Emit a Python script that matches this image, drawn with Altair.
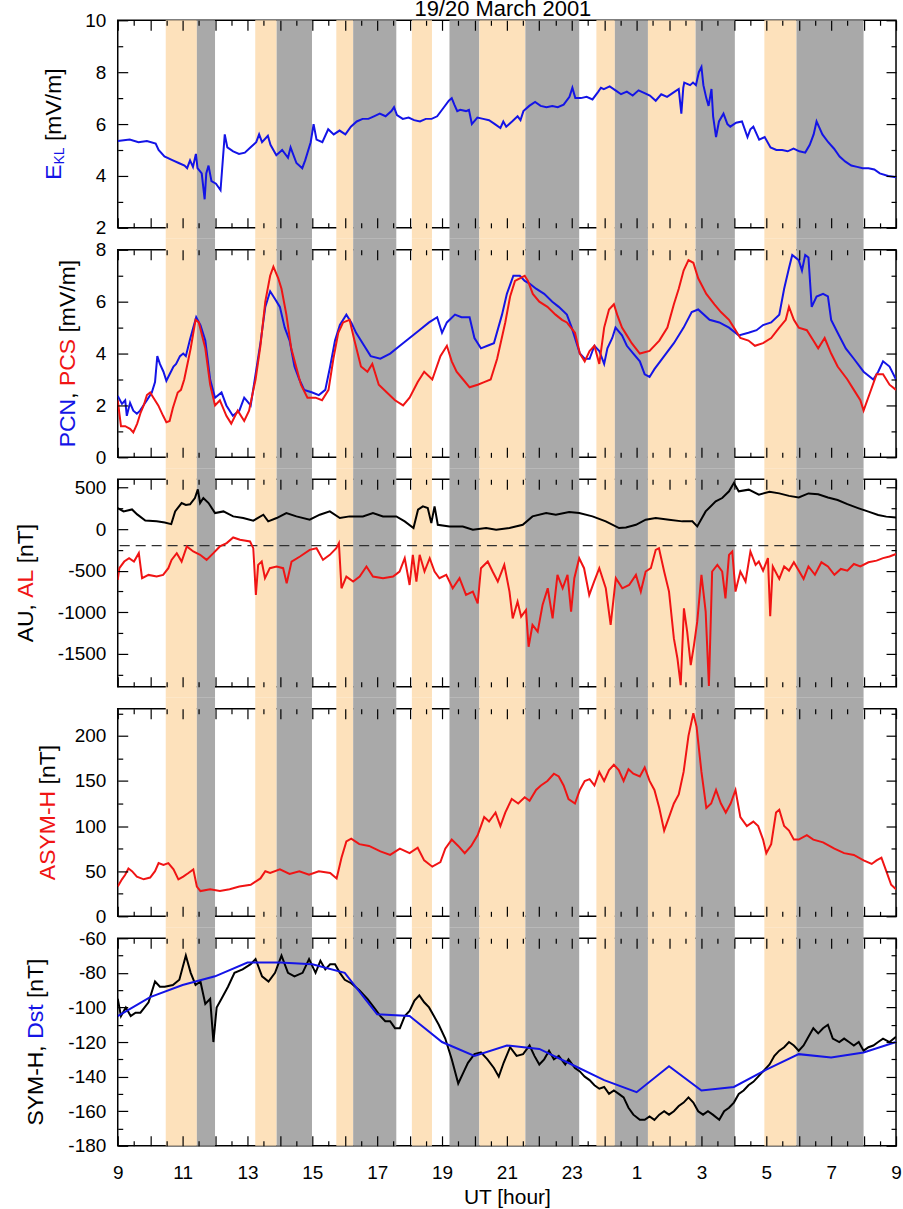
import altair as alt
import pandas as pd

FONT = "Liberation Sans"
BLUE = "#1414e6"
RED = "#f01414"
BLACK = "#000000"
ORANGE = "#fde1bb"
GRAY = "#a9a9a9"

W = 780
H = 208
GAP = 22

# ---------------- shaded intervals (UT hours, >24 = next day) ----------------
BAND_START = [10.48, 11.44, 13.24, 13.90, 15.74, 16.26, 18.07, 19.23, 20.15, 21.57, 23.76, 24.33, 25.35, 26.82, 28.94, 29.93]
BAND_END = [11.44, 12.00, 13.90, 14.99, 16.26, 17.59, 18.69, 20.15, 21.57, 23.23, 24.33, 25.35, 26.82, 28.03, 29.93, 32.00]
BAND_KIND = ["o", "g", "o", "g", "o", "g", "o", "g", "o", "g", "o", "g", "o", "g", "o", "g"]

# ---------------- ticks ----------------
X_MAJOR = [9, 10, 11, 12, 13, 14, 15, 16, 17, 18, 19, 20, 21, 22, 23, 24, 25, 26, 27, 28, 29, 30, 31, 32, 33]
X_MINOR = [9.5, 10.5, 11.5, 12.5, 13.5, 14.5, 15.5, 16.5, 17.5, 18.5, 19.5, 20.5, 21.5, 22.5, 23.5, 24.5,
           25.5, 26.5, 27.5, 28.5, 29.5, 30.5, 31.5, 32.5]
X_LABELS = [9, 11, 13, 15, 17, 19, 21, 23, 25, 27, 29, 31, 33]

# ---------------- series (hour, value) ----------------
EKL = [(9.0, 5.35), (9.37, 5.4), (9.64, 5.3), (9.9, 5.35), (10.17, 5.25), (10.26, 5.0), (10.44, 4.75), (10.7, 4.6),
       (10.88, 4.5), (11.06, 4.4), (11.14, 4.3), (11.23, 4.6), (11.32, 4.35), (11.41, 4.85), (11.46, 4.3), (11.59, 4.1),
       (11.68, 3.1), (11.73, 4.1), (11.8, 4.4), (11.89, 3.8), (12.03, 3.7), (12.17, 3.45), (12.3, 5.6), (12.38, 5.1),
       (12.56, 4.95), (12.74, 4.85), (12.92, 4.9), (13.09, 5.1), (13.27, 5.3), (13.36, 5.6), (13.45, 5.3), (13.63, 5.55),
       (13.71, 5.2), (13.89, 4.8), (14.07, 5.0), (14.25, 4.7), (14.33, 5.1), (14.51, 4.5), (14.69, 4.3), (14.78, 4.6),
       (14.95, 5.3), (15.04, 6.0), (15.13, 5.4), (15.31, 5.3), (15.49, 5.8), (15.66, 5.6), (15.84, 5.75), (16.02, 5.6),
       (16.19, 5.9), (16.37, 6.1), (16.55, 6.2), (16.73, 6.2), (16.9, 6.3), (17.08, 6.4), (17.26, 6.3), (17.44, 6.5),
       (17.52, 6.65), (17.61, 6.35), (17.79, 6.2), (17.97, 6.25), (18.14, 6.15), (18.32, 6.1), (18.5, 6.2), (18.68, 6.2),
       (18.85, 6.3), (19.03, 6.6), (19.21, 6.9), (19.3, 7.0), (19.38, 6.75), (19.47, 6.5), (19.56, 6.55), (19.74, 6.5),
       (19.83, 6.55), (19.92, 6.0), (20.09, 6.25), (20.27, 6.2), (20.45, 6.15), (20.63, 6.0), (20.8, 5.85), (20.89, 6.1),
       (20.98, 5.9), (21.16, 6.1), (21.33, 6.3), (21.42, 6.15), (21.51, 6.5), (21.69, 6.7), (21.87, 6.85), (22.04, 6.7),
       (22.22, 6.65), (22.4, 6.7), (22.57, 6.65), (22.75, 6.75), (22.93, 7.05), (23.02, 7.4), (23.11, 7.0), (23.28, 7.0),
       (23.46, 7.05), (23.64, 6.95), (23.82, 7.25), (23.9, 7.4), (23.99, 7.35), (24.17, 7.45), (24.35, 7.3), (24.52, 7.15),
       (24.7, 7.25), (24.88, 7.1), (25.06, 7.3), (25.23, 7.2), (25.41, 7.1), (25.59, 6.9), (25.76, 7.15), (25.94, 7.05),
       (26.12, 7.2), (26.3, 7.35), (26.38, 6.4), (26.44, 7.4), (26.47, 7.6), (26.65, 7.5), (26.74, 7.6), (26.83, 7.5),
       (26.92, 8.0), (27.0, 8.2), (27.06, 7.5), (27.15, 7.0), (27.22, 6.7), (27.31, 7.35), (27.36, 6.3), (27.45, 5.5),
       (27.54, 6.1), (27.68, 6.4), (27.8, 6.0), (27.89, 5.9), (28.07, 6.05), (28.25, 6.1), (28.42, 5.5), (28.51, 5.8),
       (28.6, 5.9), (28.78, 5.4), (28.95, 5.5), (29.13, 5.1), (29.31, 5.0), (29.49, 5.0), (29.66, 4.95), (29.84, 5.05),
       (30.02, 4.95), (30.2, 4.9), (30.34, 5.2), (30.46, 5.6), (30.55, 6.1), (30.64, 5.85), (30.73, 5.6), (30.91, 5.3),
       (31.09, 5.05), (31.26, 4.75), (31.44, 4.55), (31.62, 4.4), (31.8, 4.35), (31.97, 4.3), (32.15, 4.3), (32.33, 4.25),
       (32.5, 4.1), (32.76, 4.0), (33.0, 3.95)]

PCN = [(9.0, 2.37), (9.13, 2.06), (9.23, 2.2), (9.28, 1.6), (9.38, 2.1), (9.48, 1.8), (9.59, 1.68), (9.69, 1.8),
       (9.79, 2.0), (9.9, 2.2), (10.05, 2.5), (10.15, 2.9), (10.22, 3.9), (10.3, 3.6), (10.41, 3.3), (10.5, 2.95),
       (10.6, 3.2), (10.72, 3.5), (10.8, 3.6), (10.92, 3.9), (11.02, 4.0), (11.1, 3.9), (11.23, 4.55), (11.33, 5.0),
       (11.42, 5.4), (11.55, 5.1), (11.7, 4.5), (11.85, 3.0), (12.0, 2.3), (12.2, 2.5), (12.35, 2.0), (12.55, 1.6),
       (12.75, 1.8), (12.9, 2.3), (13.1, 2.0), (13.25, 3.2), (13.4, 4.4), (13.55, 5.8), (13.7, 6.4), (13.85, 6.1),
       (14.0, 5.8), (14.15, 5.0), (14.3, 4.5), (14.45, 3.5), (14.6, 3.0), (14.75, 2.6), (15.0, 2.5), (15.2, 2.4),
       (15.4, 2.6), (15.55, 3.5), (15.7, 4.5), (15.85, 5.1), (16.05, 5.5), (16.2, 5.2), (16.35, 4.8), (16.6, 4.3),
       (16.8, 3.9), (17.1, 3.8), (17.4, 4.0), (17.7, 4.3), (18.0, 4.6), (18.3, 4.9), (18.6, 5.2), (18.85, 5.4),
       (19.0, 4.8), (19.15, 5.2), (19.4, 5.5), (19.6, 5.4), (19.85, 5.4), (20.0, 4.6), (20.2, 4.2), (20.4, 4.3),
       (20.6, 4.4), (20.85, 5.5), (21.0, 6.3), (21.2, 7.0), (21.4, 7.0), (21.55, 6.8), (21.7, 6.7), (21.9, 6.5),
       (22.15, 6.3), (22.4, 6.0), (22.6, 5.8), (22.85, 5.5), (23.0, 5.0), (23.25, 4.0), (23.4, 3.8), (23.55, 3.8),
       (23.7, 4.3), (23.85, 4.1), (24.0, 3.6), (24.1, 4.2), (24.25, 4.6), (24.35, 5.0), (24.55, 4.7), (24.7, 4.3),
       (24.9, 4.0), (25.1, 3.7), (25.25, 3.2), (25.4, 3.1), (25.55, 3.4), (25.85, 3.9), (26.15, 4.4), (26.45, 5.0),
       (26.7, 5.6), (26.9, 5.7), (27.25, 5.3), (27.55, 5.2), (27.85, 5.0), (28.15, 4.7), (28.45, 4.8), (28.7, 4.9),
       (28.9, 5.1), (29.15, 5.2), (29.4, 5.5), (29.55, 6.5), (29.7, 7.3), (29.8, 7.8), (30.0, 7.6), (30.1, 7.2),
       (30.2, 7.8), (30.3, 7.7), (30.4, 5.8), (30.55, 6.2), (30.75, 6.3), (30.9, 6.2), (31.0, 5.3), (31.2, 4.8),
       (31.45, 4.2), (31.7, 3.8), (32.0, 3.3), (32.3, 3.0), (32.45, 3.3), (32.6, 3.7), (32.8, 3.5), (33.0, 3.0)]

PCS = [(9.0, 2.2), (9.1, 1.2), (9.23, 1.2), (9.38, 1.1), (9.48, 0.96), (9.6, 1.3), (9.7, 1.7), (9.8, 2.0),
       (9.9, 2.4), (10.0, 2.5), (10.1, 2.3), (10.25, 2.0), (10.4, 1.6), (10.5, 1.35), (10.6, 1.4), (10.7, 1.9),
       (10.85, 2.5), (10.95, 2.6), (11.05, 3.0), (11.15, 3.6), (11.25, 4.2), (11.4, 5.3), (11.5, 5.2), (11.7, 4.2),
       (11.85, 2.8), (12.0, 2.0), (12.15, 2.2), (12.35, 1.6), (12.5, 1.3), (12.7, 1.8), (12.9, 1.4), (13.05, 1.8),
       (13.25, 3.0), (13.4, 4.3), (13.55, 6.0), (13.7, 7.0), (13.8, 7.35), (13.95, 6.9), (14.05, 6.5), (14.2, 5.5),
       (14.35, 4.2), (14.5, 3.5), (14.65, 2.8), (14.85, 2.3), (15.1, 2.3), (15.3, 2.2), (15.5, 2.6), (15.65, 3.8),
       (15.8, 4.8), (15.95, 5.2), (16.15, 5.3), (16.3, 4.5), (16.5, 3.5), (16.7, 3.3), (16.85, 3.6), (17.05, 2.8),
       (17.3, 2.5), (17.55, 2.2), (17.8, 2.0), (18.0, 2.3), (18.25, 2.9), (18.45, 3.3), (18.7, 3.0), (18.95, 3.9),
       (19.15, 4.3), (19.3, 3.7), (19.45, 3.3), (19.65, 3.0), (19.85, 2.7), (20.1, 2.8), (20.3, 2.9), (20.5, 3.0),
       (20.7, 3.8), (20.95, 5.2), (21.1, 6.2), (21.25, 6.8), (21.4, 6.9), (21.55, 7.0), (21.65, 6.8), (21.8, 6.3),
       (22.0, 6.0), (22.25, 5.8), (22.5, 5.5), (22.7, 5.3), (22.85, 5.2), (23.1, 4.8), (23.25, 4.0), (23.4, 3.7),
       (23.55, 4.1), (23.7, 4.3), (23.85, 3.6), (24.0, 5.0), (24.15, 5.7), (24.3, 5.9), (24.4, 5.5), (24.55, 5.0),
       (24.7, 4.7), (24.85, 4.4), (25.1, 4.0), (25.4, 4.1), (25.7, 4.5), (25.95, 5.0), (26.15, 5.9), (26.3, 6.5),
       (26.45, 7.2), (26.6, 7.6), (26.75, 7.5), (26.9, 6.9), (27.15, 6.3), (27.4, 5.9), (27.6, 5.6), (27.85, 5.3),
       (28.0, 5.0), (28.2, 4.6), (28.45, 4.5), (28.65, 4.3), (28.9, 4.4), (29.15, 4.6), (29.4, 5.0), (29.6, 5.3),
       (29.7, 5.8), (29.85, 5.3), (30.0, 5.0), (30.25, 4.9), (30.45, 4.5), (30.6, 4.2), (30.8, 4.6), (31.0, 4.0),
       (31.2, 3.5), (31.5, 3.0), (31.7, 2.6), (31.9, 2.2), (32.0, 1.8), (32.2, 2.5), (32.4, 3.2), (32.6, 3.2),
       (32.8, 2.8), (33.0, 2.6)]

AU = [(9.0, 253), (9.18, 213), (9.44, 237), (9.6, 177), (9.85, 104), (10.2, 93), (10.45, 80), (10.65, 60),
      (10.77, 213), (10.97, 314), (11.1, 290), (11.23, 298), (11.38, 374), (11.47, 478), (11.54, 314), (11.64, 374),
      (11.8, 314), (12.0, 193), (12.26, 213), (12.56, 153), (12.87, 133), (13.18, 101), (13.49, 173), (13.64, 93),
      (13.9, 133), (14.2, 193), (14.51, 153), (14.92, 113), (15.23, 173), (15.54, 213), (15.85, 133), (16.15, 153),
      (16.56, 153), (16.87, 193), (17.18, 153), (17.59, 153), (17.85, 93), (18.12, 12), (18.26, 234), (18.41, 274),
      (18.56, 253), (18.67, 72), (18.77, 274), (18.87, 52), (19.23, 32), (19.64, 32), (19.95, -8), (20.36, 12),
      (20.67, -8), (21.08, 12), (21.49, 52), (21.79, 153), (22.21, 193), (22.51, 173), (22.92, 205), (23.23, 193),
      (23.64, 153), (24.05, 93), (24.46, 12), (24.67, 20), (24.98, 52), (25.28, 113), (25.59, 133), (26.0, 113),
      (26.41, 93), (26.72, 93), (26.87, 32), (27.13, 213), (27.44, 334), (27.64, 374), (27.85, 455), (28.0, 555),
      (28.15, 455), (28.46, 475), (28.77, 415), (29.1, 450), (29.4, 430), (29.7, 400), (30.0, 380), (30.3, 430),
      (30.6, 420), (30.9, 380), (31.2, 350), (31.5, 300), (31.85, 250), (32.15, 210), (32.45, 170), (32.7, 150),
      (33.0, 140)]

AL = [(9.0, -612), (9.05, -471), (9.2, -391), (9.35, -351), (9.5, -391), (9.65, -290), (9.75, -592), (9.95, -552),
      (10.2, -572), (10.4, -552), (10.56, -471), (10.66, -371), (10.82, -290), (10.97, -391), (11.13, -209),
      (11.33, -270), (11.54, -310), (11.74, -371), (11.95, -290), (12.15, -209), (12.36, -169), (12.56, -101),
      (12.77, -129), (13.08, -149), (13.18, -230), (13.26, -793), (13.33, -431), (13.44, -391), (13.54, -592),
      (13.69, -471), (13.9, -451), (14.1, -471), (14.21, -653), (14.36, -391), (14.62, -330), (14.92, -250),
      (15.13, -230), (15.33, -371), (15.54, -310), (15.74, -230), (15.82, -169), (15.9, -713), (16.05, -572),
      (16.26, -632), (16.46, -572), (16.67, -451), (16.87, -572), (17.18, -592), (17.49, -572), (17.69, -511),
      (17.85, -351), (18.0, -673), (18.1, -310), (18.21, -632), (18.31, -310), (18.46, -511), (18.62, -351),
      (18.77, -511), (18.92, -592), (19.13, -552), (19.33, -713), (19.54, -592), (19.74, -793), (19.95, -753),
      (20.1, -894), (20.2, -471), (20.41, -391), (20.56, -511), (20.72, -632), (20.92, -431), (21.08, -753),
      (21.18, -1076), (21.33, -874), (21.44, -1055), (21.59, -974), (21.67, -1417), (21.79, -1155), (21.95, -1236),
      (22.1, -914), (22.26, -713), (22.41, -1076), (22.56, -552), (22.72, -713), (22.87, -552), (22.98, -994),
      (23.08, -592), (23.23, -351), (23.38, -471), (23.54, -793), (23.69, -632), (23.85, -471), (24.05, -713),
      (24.2, -1155), (24.36, -592), (24.56, -713), (24.77, -673), (24.98, -552), (25.13, -753), (25.28, -511),
      (25.44, -471), (25.59, -250), (25.69, -230), (25.85, -511), (26.0, -753), (26.15, -1317), (26.26, -1559),
      (26.36, -1880), (26.46, -955), (26.56, -1236), (26.67, -1639), (26.77, -1397), (26.87, -1115), (27.0, -552),
      (27.13, -994), (27.23, -1890), (27.33, -511), (27.49, -431), (27.64, -511), (27.74, -834), (27.85, -310),
      (27.95, -270), (28.05, -753), (28.2, -511), (28.36, -632), (28.51, -270), (28.67, -431), (28.77, -391),
      (28.9, -500), (29.05, -350), (29.12, -1050), (29.2, -450), (29.4, -600), (29.55, -450), (29.7, -500),
      (29.85, -400), (30.0, -500), (30.15, -600), (30.3, -450), (30.5, -550), (30.7, -400), (30.9, -450),
      (31.1, -550), (31.3, -480), (31.5, -500), (31.7, -420), (31.9, -450), (32.15, -400), (32.4, -380),
      (32.6, -350), (32.8, -330), (33.0, -300)]
AL_REF = -200

ASYMH = [(9.0, 33), (9.13, 41), (9.23, 46), (9.33, 53), (9.44, 50), (9.59, 44), (9.8, 41), (10.0, 43), (10.15, 50),
         (10.26, 59), (10.41, 57), (10.56, 59), (10.72, 52), (10.87, 41), (11.02, 44), (11.18, 48), (11.33, 52),
         (11.44, 33), (11.55, 28), (11.85, 30), (12.15, 28), (12.45, 30), (12.75, 33), (13.1, 35), (13.4, 42),
         (13.55, 50), (13.7, 48), (14.0, 52), (14.3, 47), (14.6, 50), (14.9, 46), (15.2, 50), (15.55, 48),
         (15.75, 42), (15.9, 65), (16.05, 83), (16.2, 86), (16.45, 80), (16.75, 78), (17.1, 72), (17.4, 68),
         (17.7, 75), (18.0, 70), (18.25, 76), (18.45, 62), (18.7, 55), (18.95, 60), (19.1, 75), (19.3, 85),
         (19.5, 78), (19.7, 70), (19.9, 78), (20.1, 90), (20.3, 110), (20.45, 105), (20.65, 115), (20.8, 100),
         (20.95, 115), (21.15, 130), (21.35, 125), (21.55, 132), (21.7, 128), (21.9, 140), (22.05, 145),
         (22.25, 150), (22.45, 158), (22.6, 155), (22.75, 145), (22.9, 130), (23.1, 125), (23.25, 140), (23.4, 150),
         (23.55, 152), (23.7, 145), (23.85, 160), (24.0, 150), (24.15, 162), (24.3, 168), (24.45, 162), (24.6, 150),
         (24.75, 163), (24.9, 158), (25.1, 155), (25.25, 165), (25.4, 150), (25.55, 140), (25.7, 120), (25.85, 95),
         (26.0, 110), (26.15, 125), (26.3, 135), (26.45, 160), (26.6, 200), (26.75, 225), (26.85, 210), (27.0, 160),
         (27.15, 120), (27.3, 125), (27.45, 140), (27.6, 125), (27.75, 115), (27.9, 125), (28.05, 140), (28.2, 110),
         (28.4, 100), (28.6, 105), (28.75, 100), (28.9, 85), (29.0, 70), (29.15, 80), (29.3, 115), (29.4, 118),
         (29.55, 100), (29.7, 95), (29.85, 85), (30.0, 85), (30.25, 90), (30.45, 85), (30.75, 82), (31.1, 75),
         (31.4, 70), (31.7, 68), (32.0, 62), (32.25, 58), (32.4, 62), (32.55, 65), (32.7, 50), (32.85, 35),
         (33.0, 30)]

SYMH = [(9.0, -95), (9.1, -105), (9.25, -100), (9.4, -105), (9.55, -103), (9.7, -103), (9.95, -97), (10.15, -85),
        (10.3, -88), (10.45, -88), (10.7, -87), (10.9, -84), (11.1, -70), (11.25, -80), (11.4, -87), (11.55, -85),
        (11.7, -98), (11.85, -95), (11.95, -120), (12.05, -100), (12.2, -95), (12.4, -88), (12.6, -80),
        (12.85, -78), (13.1, -75), (13.25, -72), (13.45, -82), (13.65, -85), (13.85, -80), (14.05, -70),
        (14.25, -80), (14.45, -82), (14.7, -80), (14.9, -72), (15.1, -80), (15.25, -73), (15.4, -78), (15.55, -75),
        (15.7, -75), (15.85, -80), (16.0, -84), (16.2, -86), (16.45, -90), (16.7, -95), (16.9, -100), (17.1, -105),
        (17.25, -108), (17.4, -108), (17.55, -112), (17.7, -112), (17.85, -105), (18.0, -102), (18.15, -96),
        (18.3, -93), (18.45, -97), (18.6, -100), (18.75, -105), (18.9, -110), (19.1, -118), (19.3, -130),
        (19.5, -144), (19.65, -138), (19.8, -132), (20.0, -127), (20.2, -126), (20.4, -130), (20.6, -135),
        (20.75, -140), (20.9, -132), (21.1, -123), (21.3, -128), (21.5, -127), (21.7, -122), (21.85, -128),
        (22.0, -133), (22.15, -130), (22.3, -125), (22.45, -130), (22.6, -128), (22.8, -133), (22.9, -130),
        (23.1, -135), (23.25, -137), (23.4, -140), (23.55, -142), (23.7, -145), (23.85, -147), (24.0, -146),
        (24.15, -150), (24.3, -148), (24.45, -150), (24.6, -152), (24.75, -158), (24.9, -162), (25.1, -165),
        (25.25, -165), (25.4, -163), (25.55, -165), (25.7, -162), (25.85, -160), (26.0, -162), (26.15, -160),
        (26.3, -157), (26.45, -155), (26.6, -152), (26.75, -155), (26.9, -160), (27.05, -162), (27.2, -160),
        (27.35, -162), (27.55, -165), (27.7, -160), (27.85, -158), (28.0, -155), (28.15, -150), (28.3, -148),
        (28.45, -145), (28.6, -143), (28.75, -140), (28.9, -137), (29.1, -133), (29.25, -128), (29.4, -125),
        (29.55, -123), (29.7, -120), (29.85, -122), (30.0, -125), (30.15, -122), (30.3, -117), (30.45, -112),
        (30.6, -115), (30.75, -112), (30.9, -110), (31.05, -118), (31.25, -120), (31.4, -118), (31.55, -120),
        (31.7, -122), (31.85, -120), (32.0, -125), (32.15, -123), (32.3, -122), (32.45, -120), (32.6, -118),
        (32.8, -120), (33.0, -117)]

DST = [(9, -105), (10, -94), (11, -87), (12, -82), (13, -74), (14, -74), (15, -75), (16, -80), (17, -104),
       (18, -105), (19, -120), (20, -128), (21, -122), (22, -124), (23, -133), (24, -142), (25, -149), (26, -134),
       (27, -148), (28, -146), (29, -136), (30, -127), (31, -129), (32, -126), (33, -120)]

# ---------------- panel definitions ----------------
SPECS = [
    dict(series=[(EKL, BLUE)], dom=[2, 10], maj=[2, 4, 6, 8, 10], mnr=[3, 5, 7, 9], tx=-64,
         title=[("E", BLUE, 23, 0), ("KL", BLUE, 14, 6.5), (" [mV/m]", BLACK, 23, 0)]),
    dict(series=[(PCN, BLUE), (PCS, RED)], dom=[0, 8], maj=[0, 2, 4, 6, 8], mnr=[1, 3, 5, 7], tx=-50,
         title=[("PCN", BLUE, 23, 0), (", ", BLACK, 23, 0), ("PCS", RED, 23, 0), (" [mV/m]", BLACK, 23, 0)]),
    dict(series=[(AU, BLACK), (AL, RED)], dom=[-1900, 600], maj=[-1500, -1000, -500, 0, 500],
         mnr=[-1750, -1250, -750, -250, 250], tx=-92, ref=AL_REF,
         title=[("AU, ", BLACK, 23, 0), ("AL", RED, 23, 0), (" [nT]", BLACK, 23, 0)]),
    dict(series=[(ASYMH, RED)], dom=[0, 230], maj=[0, 50, 100, 150, 200], mnr=[25, 75, 125, 175, 225], tx=-70,
         title=[("ASYM-H", RED, 23, 0), (" [nT]", BLACK, 23, 0)]),
    dict(series=[(SYMH, BLACK), (DST, BLUE)], dom=[-180, -60], maj=[-180, -160, -140, -120, -100, -80, -60],
         mnr=[-170, -150, -130, -110, -90, -70], tx=-82,
         title=[("SYM-H, ", BLACK, 23, 0), ("Dst", BLUE, 23, 0), (" [nT]", BLACK, 23, 0)]),
]

# Arial / Liberation Sans advance widths (1/1000 em) used to place coloured title pieces
ARIAL_W = {" ": 278, ",": 278, "[": 278, "]": 278, "/": 278, "-": 333, "A": 667, "C": 722, "D": 722,
           "E": 667, "H": 722, "K": 667, "L": 556, "M": 833, "N": 722, "P": 667, "S": 667, "T": 611,
           "U": 722, "V": 667, "Y": 667, "m": 833, "n": 556, "s": 500, "t": 278}


def text_w(s, fs):
    return sum(ARIAL_W.get(ch, 556) for ch in s) * fs / 1000.0


ONE = pd.DataFrame({"k": [0]})
BANDS = pd.DataFrame({"start": BAND_START, "end": BAND_END, "kind": BAND_KIND})


def tick_axis(orient, size, values):
    return alt.Axis(orient=orient, offset=-size, tickSize=size, values=values, labels=False,
                    domain=False, grid=False, title=None, tickColor="black", tickWidth=1.2, zindex=2)


def ylabel_axis(values):
    return alt.Axis(orient="left", values=values, ticks=False, domain=False, grid=False, title=None,
                    labelExpr="'' + datum.value",
                    labelFontSize=19, labelPadding=12, labelOverlap=False, labelColor="black",
                    labelFont=FONT, zindex=2)


XLABEL_AXIS = alt.Axis(orient="bottom", values=X_LABELS, ticks=False, domain=False, grid=False,
                       labelExpr="'' + (datum.value > 24 ? datum.value - 24 : datum.value)",
                       labelFontSize=19, labelPadding=18, labelFlush=False, labelOverlap=False,
                       labelColor="black", labelFont=FONT, title="UT [hour]", titleFontSize=21,
                       titleFontWeight="normal", titleFont=FONT, titleColor="black", titlePadding=4,
                       zindex=2)


def title_layers(pieces, xpos):
    total = sum(text_w(s, fs) for s, c, fs, dy in pieces)
    cur = -total / 2.0
    out = []
    for s, c, fs, dy in pieces:
        lead = len(s) - len(s.lstrip(" "))
        out.append(
            alt.Chart(ONE).mark_text(text=s.strip(), angle=270, align="left", baseline="middle", font=FONT,
                                     fontSize=fs, color=c, dx=cur + lead * ARIAL_W[" "] * fs / 1000.0, dy=dy)
            .encode(x=alt.value(xpos), y=alt.value(H / 2))
        )
        cur += text_w(s, fs)
    return out


def make_panel(i, spec):
    first = i == 0
    last = i == len(SPECS) - 1
    xs = alt.Scale(domain=[9, 33], nice=False, zero=False)
    ys = alt.Scale(domain=spec["dom"], nice=False, zero=False)
    top = 0 if first else -GAP / 2
    bot = H if last else H + GAP / 2
    layers = [
        alt.Chart(BANDS).mark_rect().encode(
            x=alt.X("start:Q", scale=xs, axis=tick_axis("bottom", 10, X_MAJOR)),
            x2="end:Q",
            y=alt.value(top), y2=alt.value(bot),
            color=alt.Color("kind:N", scale=alt.Scale(domain=["o", "g"], range=[ORANGE, GRAY]), legend=None),
        )
    ]
    if "ref" in spec:
        layers.append(
            alt.Chart(pd.DataFrame({"v": [spec["ref"]]})).mark_rule(color="#303030", strokeWidth=1.2,
                                                                   strokeDash=[10, 6])
            .encode(y=alt.Y("v:Q", scale=ys, axis=None))
        )
    xaxes = [tick_axis("bottom", 5, X_MINOR), tick_axis("top", 10, X_MAJOR), tick_axis("top", 5, X_MINOR),
             XLABEL_AXIS if last else None, None]
    yaxes = [ylabel_axis(spec["maj"]), tick_axis("left", 10, spec["maj"]), tick_axis("left", 5, spec["mnr"]),
             tick_axis("right", 10, spec["maj"]), tick_axis("right", 5, spec["mnr"])]
    hosts = list(spec["series"]) + [None] * (5 - len(spec["series"]))
    for k, host in enumerate(hosts):
        if host is None:
            df = pd.DataFrame({"t": [9, 33], "v": spec["dom"]})
            base = alt.Chart(df).mark_point(opacity=0, size=1)
        else:
            pts, color = host
            df = pd.DataFrame(pts, columns=["t", "v"])
            base = alt.Chart(df).mark_line(color=color, strokeWidth=2, clip=True)
        layers.append(base.encode(x=alt.X("t:Q", scale=xs, axis=xaxes[k]),
                                  y=alt.Y("v:Q", scale=ys, axis=yaxes[k])))
    layers += title_layers(spec["title"], spec["tx"])
    if first:
        layers.append(alt.Chart(ONE).mark_rect(opacity=0).encode(
            x=alt.value(-117), x2=alt.value(0), y=alt.value(-30), y2=alt.value(0)))
        layers.append(alt.Chart(ONE).mark_text(text="19/20 March 2001", font=FONT, fontSize=22, align="center",
                                               baseline="alphabetic", color="black")
                      .encode(x=alt.value(386), y=alt.value(-4)))
    return alt.layer(*layers).resolve_axis(x="independent", y="independent").properties(width=W, height=H)


panels = [make_panel(i, s) for i, s in enumerate(SPECS)]

chart = (
    alt.vconcat(*panels, spacing=GAP, bounds="flush")
    .resolve_scale(y="independent")
    .properties(padding={"left": 0, "top": -12, "right": 0, "bottom": 0})
    .configure(font=FONT)
    .configure_view(stroke="black", strokeWidth=1.5)
)

chart.save("out.html", embed_options={"renderer": "svg", "actions": False})
